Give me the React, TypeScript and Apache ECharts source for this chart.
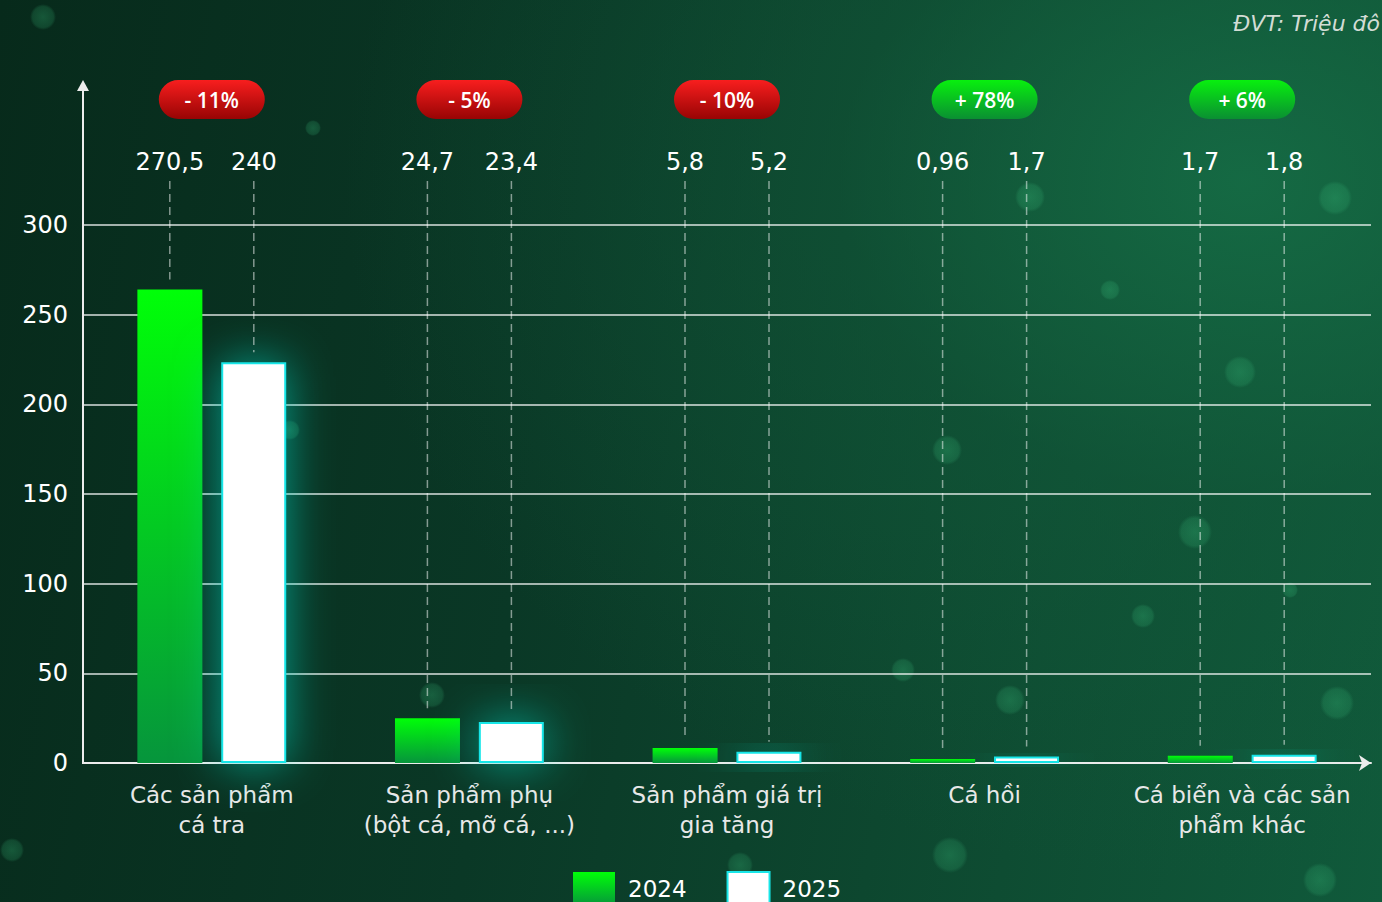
import React, { useEffect, useRef } from "react";
import * as echarts from "echarts";

const categories = [
  "Các sản phẩm\ncá tra",
  "Sản phẩm phụ\n(bột cá, mỡ cá, ...)",
  "Sản phẩm giá trị\ngia tăng",
  "Cá hồi",
  "Cá biển và các sản\nphẩm khác",
];
// bar heights as drawn in the picture
const values2024 = [264, 25, 8.3, 2.2, 4];
const values2025 = [223.5, 22.8, 6.3, 3.6, 4.6];
// value labels as printed
const labels2024 = ["270,5", "24,7", "5,8", "0,96", "1,7"];
const labels2025 = ["240", "23,4", "5,2", "1,7", "1,8"];
const changes = ["- 11%", "- 5%", "- 10%", "+ 78%", "+ 6%"];
const yTicks = { min: 0, max: 300, interval: 50 };

const FONT = '"DejaVu Sans", "Noto Sans", sans-serif';
const PILL_FONT = '"Open Sans", "Noto Sans", sans-serif';
const BAR_W = 65;
const OFF = 42;

const bokeh = [
  [43, 17, 13], [1335, 198, 17], [1240, 372, 16], [1030, 197, 15], [947, 450, 15],
  [1195, 532, 17], [1143, 616, 12], [903, 670, 12], [1010, 700, 15], [1337, 703, 17],
  [432, 695, 13], [740, 865, 13], [950, 855, 18], [12, 850, 12], [1320, 880, 17],
  [290, 430, 10], [313, 128, 8], [1110, 290, 10], [1290, 590, 8],
];

export default function App() {
  const ref = useRef<HTMLDivElement>(null);
  useEffect(() => {
    const chart = echarts.init(ref.current!, null, { renderer: "svg" });

    const labelSeries = (vals: number[], labels: string[], off: number, name: string) => ({
      type: "custom",
      name,
      z: 5,
      silent: true,
      data: vals.map((v, i) => [i, v]),
      renderItem: (params: any, api: any) => {
        const idx = api.value(0);
        const v = api.value(1);
        const p = api.coord([idx, v]);
        const x = p[0] + off;
        return {
          type: "group",
          children: [
            {
              type: "line",
              shape: { x1: x, y1: 181, x2: x, y2: p[1] - 10 },
              style: { stroke: "rgba(255,255,255,0.5)", lineWidth: 1.5, lineDash: [8, 5] },
            },
            {
              type: "text",
              style: {
                text: labels[idx],
                x,
                y: 162,
                align: "center",
                verticalAlign: "middle",
                fill: "#ffffff",
                fontSize: 24,
                fontWeight: 500,
                fontFamily: FONT,
              },
            },
          ],
        };
      },
    });

    const option: any = {
      animation: false,
      backgroundColor: "transparent",
      grid: { left: 83, right: 11, top: 225, bottom: 139, containLabel: false },
      legend: {
        data: ["2024", "2025"],
        icon: "rect",
        left: 568,
        top: 866,
        itemWidth: 42,
        itemHeight: 34,
        itemGap: 40,
        selectedMode: false,
        textStyle: { color: "#ffffff", fontSize: 23, fontFamily: FONT, padding: [0, 0, 0, 8] },
      },
      xAxis: {
        type: "category",
        data: categories,
        axisLine: {
          show: true,
          symbol: ["none", "arrow"],
          symbolSize: [12, 12],
          lineStyle: { color: "#ececec", width: 2 },
        },
        axisTick: { show: false },
        axisLabel: {
          interval: 0,
          color: "#e8e8e8",
          fontSize: 23,
          lineHeight: 30,
          margin: 17,
          fontFamily: FONT,
        },
      },
      yAxis: {
        type: "value",
        min: yTicks.min,
        max: yTicks.max,
        interval: yTicks.interval,
        axisLine: { show: false },
        axisTick: { show: false },
        axisLabel: { color: "#ffffff", fontSize: 24, margin: 15, fontFamily: FONT },
        splitLine: { lineStyle: { color: "rgba(255,255,255,0.85)", width: 1.5 } },
      },
      graphic: [
        ...bokeh.map(([x, y, r]) => ({
          type: "circle",
          silent: true,
          z: -10,
          shape: { cx: x, cy: y, r },
          style: {
            fill: {
              type: "radial",
              x: 0.5,
              y: 0.5,
              r: 0.5,
              colorStops: [
                { offset: 0, color: "rgba(60,200,130,0.28)" },
                { offset: 0.8, color: "rgba(60,200,130,0.18)" },
                { offset: 1, color: "rgba(60,200,130,0)" },
              ],
            },
          },
        })),
        {
          type: "line",
          z: 10,
          shape: { x1: 83, y1: 764, x2: 83, y2: 88 },
          style: { stroke: "#ececec", lineWidth: 2 },
        },
        {
          type: "polygon",
          z: 10,
          shape: { points: [[83, 80], [77, 91], [89, 91]] },
          style: { fill: "#ececec" },
        },
        {
          type: "text",
          right: 2,
          top: 12,
          style: {
            text: "ĐVT: Triệu đô",
            fill: "#d2dcd5",
            fontSize: 22,
            fontStyle: "italic",
            fontFamily: FONT,
          },
        },
      ],
      series: [
        {
          name: "2024",
          type: "bar",
          barWidth: BAR_W,
          barGap: "29%",
          data: values2024,
          itemStyle: {
            color: {
              type: "linear",
              x: 0,
              y: 0,
              x2: 0,
              y2: 1,
              colorStops: [
                { offset: 0, color: "#00ff08" },
                { offset: 1, color: "#06953c" },
              ],
            },
          },
        },
        {
          name: "2025",
          type: "bar",
          barWidth: BAR_W,
          data: values2025,
          itemStyle: {
            color: "#ffffff",
            borderColor: "#19e6e8",
            borderWidth: 2,
            shadowBlur: 45,
            shadowColor: "rgba(0,230,210,0.6)",
          },
        },
        labelSeries(values2024, labels2024, -OFF, "lbl2024"),
        labelSeries(values2025, labels2025, OFF, "lbl2025"),
        {
          type: "custom",
          name: "changes",
          silent: true,
          z: 6,
          data: changes.map((c, i) => [i, 0]),
          renderItem: (params: any, api: any) => {
            const idx = api.value(0);
            const p = api.coord([idx, 0]);
            const up = changes[idx].trim().startsWith("+");
            return {
              type: "group",
              children: [
                {
                  type: "rect",
                  shape: { x: p[0] - 53, y: 80, width: 106, height: 39, r: 19.5 },
                  style: {
                    fill: {
                      type: "linear",
                      x: 0,
                      y: 0,
                      x2: 0,
                      y2: 1,
                      colorStops: up
                        ? [
                            { offset: 0, color: "#08f00e" },
                            { offset: 1, color: "#0a8f32" },
                          ]
                        : [
                            { offset: 0, color: "#f81e1e" },
                            { offset: 1, color: "#980404" },
                          ],
                    },
                  },
                },
                {
                  type: "text",
                  style: {
                    text: changes[idx],
                    x: p[0],
                    y: 100,
                    align: "center",
                    verticalAlign: "middle",
                    fill: "#ffffff",
                    fontSize: 21,
                    fontWeight: 600,
                    fontFamily: PILL_FONT,
                  },
                },
              ],
            };
          },
        },
      ],
    };
    chart.setOption(option);
    return () => chart.dispose();
  }, []);

  return (
    <div
      style={{
        position: "fixed",
        left: 0,
        top: 0,
        width: 1382,
        height: 902,
        overflow: "hidden",
        background:
          "radial-gradient(ellipse 900px 700px at 90% 20%, rgba(22,110,70,0.85) 0%, rgba(18,90,58,0.5) 45%, rgba(10,50,32,0) 100%), linear-gradient(100deg, #072a1b 0%, #0a3826 40%, #0e4c32 75%, #105a3b 100%)",
      }}
    >
      <div ref={ref} style={{ width: 1382, height: 902 }} />
    </div>
  );
}
